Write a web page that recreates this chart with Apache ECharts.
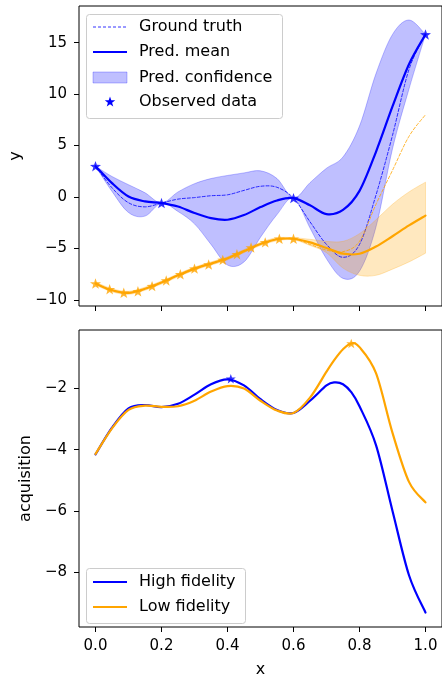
<!DOCTYPE html>
<html><head><meta charset="utf-8">
<script src="https://cdn.jsdelivr.net/npm/echarts@6/dist/echarts.min.js"></script>
<style>html,body{margin:0;padding:0;background:#fff}#c{width:442px;height:679px}</style>
</head><body><div id="c"></div>
<script>
// ---------- data ----------
const xs = [0,0.05,0.1,0.15,0.2,0.25,0.3,0.35,0.4,0.45,0.5,0.55,0.6,0.65,0.7,0.75,0.8,0.85,0.9,0.95,1.0];
const hfMean  = [3.0,1.35,0.05,-0.42,-0.58,-0.92,-1.55,-2.05,-2.2,-1.75,-0.97,-0.33,-0.1,-0.8,-1.65,-1.25,0.6,4.4,8.8,12.9,15.8];
const hfLower = [3.0,0.55,-1.5,-1.85,-0.58,-1.4,-2.6,-4.6,-6.6,-6.3,-3.9,-1.7,-0.1,-3.0,-6.0,-7.9,-7.2,-2.9,4.7,10.5,15.8];
const hfUpper = [3.0,2.0,1.2,0.42,-0.58,0.5,1.3,1.8,2.1,2.35,2.55,1.8,-0.1,1.4,2.8,3.9,6.9,12.0,15.8,17.2,15.8];
const hfTruth = [3.0,0.9,-0.55,-0.95,-0.58,-0.2,-0.05,0.13,0.22,0.65,1.05,0.95,-0.1,-2.4,-4.6,-5.85,-4.6,0.2,6.0,12.4,15.8];
const lfMean  = [-8.4,-9.05,-9.3,-8.9,-8.3,-7.6,-6.95,-6.45,-5.95,-5.25,-4.55,-4.1,-4.05,-4.4,-4.95,-5.5,-5.5,-4.8,-3.8,-2.75,-1.8];
const lfLower = [-8.55,-9.2,-9.45,-9.05,-8.45,-7.75,-7.1,-6.6,-6.1,-5.4,-4.7,-4.25,-4.15,-4.7,-5.4,-6.9,-7.6,-7.6,-7.0,-6.3,-5.45];
const lfUpper = [-8.25,-8.9,-9.15,-8.75,-8.15,-7.45,-6.8,-6.3,-5.8,-5.1,-4.4,-3.95,-3.95,-4.1,-4.3,-4.3,-3.55,-2.2,-0.7,0.5,1.45];
const lfTruth = [-8.4,-9.05,-9.3,-8.9,-8.3,-7.6,-6.95,-6.45,-5.95,-5.25,-4.55,-4.1,-4.05,-4.6,-5.15,-5.3,-4.3,-0.7,2.6,5.9,8.0];
const hfObsX = [0,0.2,0.6,1.0];
const hfObsY = [3.0,-0.58,-0.1,15.8];
const lfObsX = [0,0.0429,0.0857,0.1286,0.1714,0.2143,0.2571,0.3,0.3429,0.3857,0.4286,0.4714,0.5143,0.5571,0.6];
const lfObsY = [-8.4,-8.95,-9.3,-9.15,-8.65,-8.1,-7.5,-6.95,-6.55,-6.1,-5.55,-4.9,-4.4,-4.05,-4.05];

const acqX  = [0,0.05,0.1,0.15,0.2,0.25,0.3,0.35,0.4,0.45,0.5,0.55,0.6,0.65,0.7,0.725,0.75,0.775,0.8,0.85,0.9,0.95,1.0];
const acqHF = [-4.15,-3.28,-2.65,-2.54,-2.61,-2.5,-2.2,-1.86,-1.70,-1.9,-2.35,-2.7,-2.8,-2.4,-1.9,-1.8,-1.86,-2.12,-2.58,-3.85,-6.0,-8.1,-9.32];
const acqLF = [-4.14,-3.3,-2.7,-2.56,-2.6,-2.58,-2.4,-2.1,-1.92,-2.0,-2.4,-2.72,-2.8,-2.3,-1.45,-1.05,-0.72,-0.53,-0.65,-1.5,-3.45,-5.05,-5.72];
const acqHFBest = [0.41,-1.68];
const acqLFBest = [0.775,-0.53];

const xTicks = [0,0.2,0.4,0.6,0.8,1.0];
const yTicksTop = [-10,-5,0,5,10,15];
const yTicksBot = [-8,-6,-4,-2];

// ---------- helpers ----------
const BLUE = '#0000ff', ORANGE = '#ffa500';
const FONT = 'DejaVu Sans';
const zip = (a,b) => a.map((v,i)=>[v,b[i]]);
const minus = v => (v<0?'\u2212':'') + Math.abs(v);
const STAR = 'path://M0,-10L2.35,-3.24L9.51,-3.09L3.8,1.24L5.88,8.09L0,4L-5.88,8.09L-3.8,1.24L-9.51,-3.09L-2.35,-3.24Z';
function starPts(cx,cy,R){const r=R*0.4,p=[];for(let i=0;i<10;i++){const a=-Math.PI/2+i*Math.PI/5,rr=i%2?r:R;p.push([cx+rr*Math.cos(a),cy+rr*Math.sin(a)]);}return p;}

// Catmull-Rom -> cubic bezier path through pixel points (continuing an existing path)
function crPath(P, t){
  let s='';
  for(let i=0;i<P.length-1;i++){
    const p0=P[Math.max(i-1,0)],p1=P[i],p2=P[i+1],p3=P[Math.min(i+2,P.length-1)];
    const c1=[p1[0]+(p2[0]-p0[0])*t/6, p1[1]+(p2[1]-p0[1])*t/6];
    const c2=[p2[0]-(p3[0]-p1[0])*t/6, p2[1]-(p3[1]-p1[1])*t/6];
    s+=`C${c1[0]},${c1[1]} ${c2[0]},${c2[1]} ${p2[0]},${p2[1]}`;
  }
  return s;
}
function bandSeries(lower, upper, color){
  return {type:'custom',xAxisIndex:0,yAxisIndex:0,z:1,
    data: xs.map((x,i)=>[x, lower[i], upper[i]]),
    encode:{x:0,y:[1,2]},
    renderItem:function(params, api){
      if(params.dataIndex!==0) return null;
      const up = xs.map((x,i)=>api.coord([x, upper[i]]));
      const lo = xs.map((x,i)=>api.coord([x, lower[i]])).reverse();
      const d = `M${up[0][0]},${up[0][1]}` + crPath(up,1) + `L${lo[0][0]},${lo[0][1]}` + crPath(lo,1) + 'Z';
      return {type:'path',shape:{pathData:d},style:{fill:color,stroke:color,lineWidth:1}};
    }};
}
// smooth line through data points (Catmull-Rom), drawn via custom series
function curveSeries(xArr, yArr, axisIdx, color, width, dash, z){
  return {type:'custom',xAxisIndex:axisIdx,yAxisIndex:axisIdx,z:z,
    data: xArr.map((x,i)=>[x, yArr[i]]),
    encode:{x:0,y:1},
    renderItem:function(params, api){
      if(params.dataIndex!==0) return null;
      const P = xArr.map((x,i)=>api.coord([x, yArr[i]]));
      const d = `M${P[0][0]},${P[0][1]}` + crPath(P,1);
      return {type:'path',shape:{pathData:d},style:{fill:null,stroke:color,lineWidth:width,lineDash:dash||null,lineCap:'round',lineJoin:'round'}};
    }};
}

const tickLabel = {fontFamily:FONT,fontSize:15,color:'#000'};
function xAx(idx, showLabel){
  return {type:'value',gridIndex:idx,min:-0.05,max:1.05,
    axisLine:{show:false,onZero:false},splitLine:{show:false},
    axisTick:{show:true,length:5,customValues:xTicks,lineStyle:{color:'#000'}},
    axisLabel:Object.assign({show:showLabel,margin:12,customValues:xTicks,formatter:v=>v.toFixed(1)},tickLabel),
    name: showLabel?'x':'', nameLocation:'middle', nameGap:35,
    nameTextStyle:{fontFamily:FONT,fontSize:16,color:'#000'}};
}
function yAx(idx,min,max,ticks,name,gap){
  return {type:'value',gridIndex:idx,min:min,max:max,
    axisLine:{show:false,onZero:false},splitLine:{show:false},
    axisTick:{show:true,length:5,customValues:ticks,lineStyle:{color:'#000'}},
    axisLabel:Object.assign({margin:12,customValues:ticks,formatter:minus},tickLabel),
    name:name,nameLocation:'middle',nameGap:gap,
    nameTextStyle:{fontFamily:FONT,fontSize:16,color:'#000'}};
}

const series = [
  bandSeries(hfLower, hfUpper, 'rgba(0,0,255,0.25)'),
  bandSeries(lfLower, lfUpper, 'rgba(255,165,0,0.25)'),
  curveSeries(xs, hfTruth, 0, BLUE, 0.8, [3,2], 2),
  curveSeries(xs, lfTruth, 0, ORANGE, 0.8, [3,2], 2),
  curveSeries(xs, hfMean, 0, BLUE, 2.2, null, 3),
  curveSeries(xs, lfMean, 0, ORANGE, 2.2, null, 3),
  {type:'scatter',xAxisIndex:0,yAxisIndex:0,data:zip(hfObsX,hfObsY),symbol:STAR,symbolSize:11,symbolKeepAspect:true,itemStyle:{color:BLUE},z:4},
  {type:'scatter',xAxisIndex:0,yAxisIndex:0,data:zip(lfObsX,lfObsY),symbol:STAR,symbolSize:11,symbolKeepAspect:true,itemStyle:{color:ORANGE},z:4},
  curveSeries(acqX, acqHF, 1, BLUE, 2.2, null, 3),
  curveSeries(acqX, acqLF, 1, ORANGE, 2.2, null, 3),
  {type:'scatter',xAxisIndex:1,yAxisIndex:1,data:[acqHFBest],symbol:STAR,symbolSize:10,symbolKeepAspect:true,itemStyle:{color:BLUE},z:4},
  {type:'scatter',xAxisIndex:1,yAxisIndex:1,data:[acqLFBest],symbol:STAR,symbolSize:10,symbolKeepAspect:true,itemStyle:{color:ORANGE},z:4}
];

// ---------- legends (drawn as graphic) ----------
const txt = (x,y,t)=>({type:'text',x:x,y:y,style:{text:t,fontFamily:FONT,fontSize:16,fill:'#000',textVerticalAlign:'middle'},z:101});
const ln = (y,color,w,dash)=>({type:'line',shape:{x1:93,y1:y,x2:127,y2:y},style:{stroke:color,lineWidth:w,lineDash:dash||null},z:101});
const graphic = [
  {type:'rect',shape:{x:86.5,y:14.5,width:196,height:104,r:3},style:{fill:'rgba(255,255,255,0.8)',stroke:'#cccccc',lineWidth:1},z:100},
  ln(27,BLUE,0.8,[3,2]), txt(139,27,'Ground truth'),
  ln(52,BLUE,2.2), txt(139,52,'Pred. mean'),
  {type:'rect',shape:{x:93,y:72,width:34,height:11},style:{fill:'rgba(0,0,255,0.25)',stroke:'rgba(0,0,255,0.25)',lineWidth:1},z:101},
  txt(139,77.5,'Pred. confidence'),
  {type:'polygon',shape:{points:starPts(110,102,5.5)},style:{fill:BLUE},z:101},
  txt(139,102,'Observed data'),
  {type:'rect',shape:{x:86.5,y:568.5,width:159,height:55,r:3},style:{fill:'rgba(255,255,255,0.8)',stroke:'#cccccc',lineWidth:1},z:100},
  ln(582,BLUE,2.2), txt(139,582,'High fidelity'),
  ln(607,ORANGE,2.2), txt(139,607,'Low fidelity')
];

const chart = echarts.init(document.getElementById('c'),null,{renderer:'canvas'});
chart.setOption({
  animation:false,
  backgroundColor:'#fff',
  grid:[
    {left:79,top:6,width:370,height:300,show:true,borderColor:'#000',borderWidth:1,backgroundColor:'transparent'},
    {left:79,top:330,width:370,height:302,show:true,borderColor:'#000',borderWidth:1,backgroundColor:'transparent'}
  ],
  xAxis:[xAx(0,false),xAx(1,true)],
  yAxis:[yAx(0,-10.58,18.56,yTicksTop,'y',55),yAx(1,-9.79,-0.09,yTicksBot,'acquisition',42)],
  series:series,
  graphic:graphic
});
</script></body></html>
